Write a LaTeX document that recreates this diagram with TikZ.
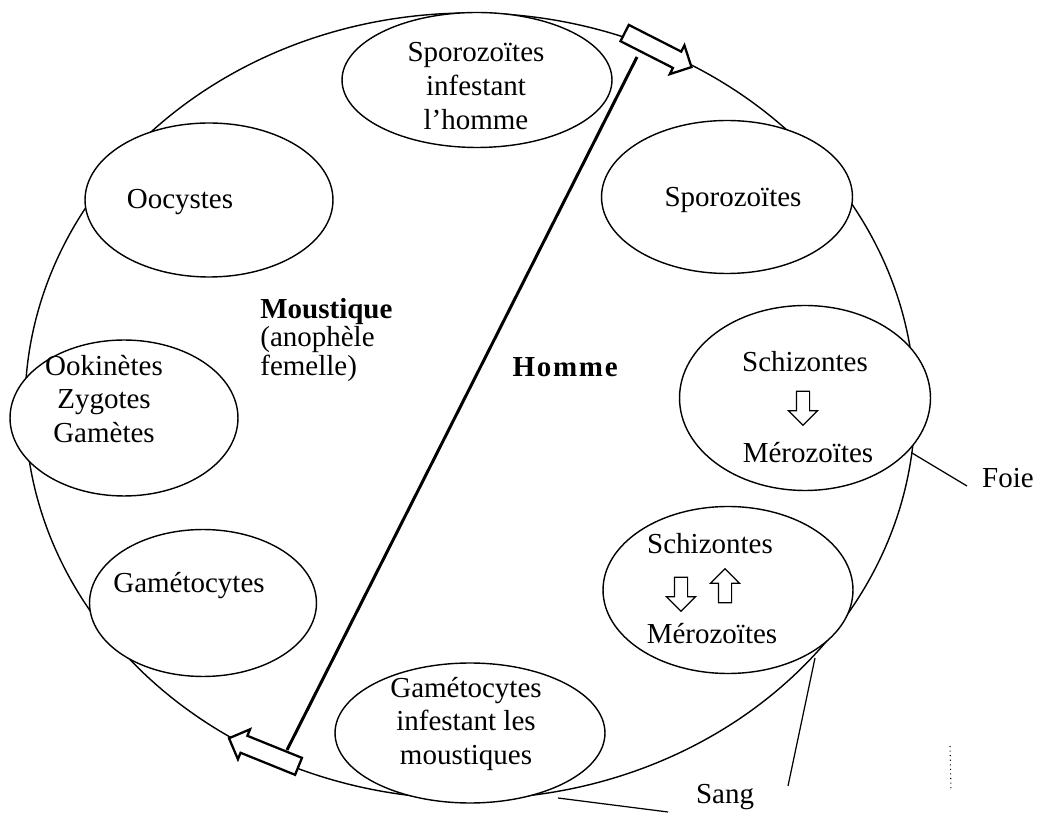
\documentclass[tikz,border=0pt]{standalone}
\usepackage{fontspec}
\setmainfont{Liberation Serif}
\usepackage{tikz}
\usetikzlibrary{shapes,arrows,positioning}

\tikzset{
	stade/.style={ellipse, draw, fill=white, line width=0.8pt, inner sep=0pt},
	lbl/.style={align=center, inner sep=0pt, font=\fontsize{16.5}{19.3}\selectfont},
	fleche/.style={single arrow, draw, fill=white, line width=0.7pt, inner sep=0.12cm, single arrow head extend=0.16cm, minimum height=0.68cm},
	grosse/.style={single arrow, draw, fill=white, line width=1.3pt, inner sep=0.16cm, single arrow head extend=0.14cm, minimum height=1.5cm}
}

\begin{document}
\begin{tikzpicture}[x=0.02cm, y=-0.02cm]
				\useasboundingbox (0,0) rectangle (1041,813);
				% le cycle
				\draw [line width=0.8pt] (470,406) ellipse [x radius=445, y radius=393];
				\coordinate (dtop) at (637,57);
				\coordinate (dbot) at (287,750);
				\draw [line width=1.7pt] (dtop) -- (dbot);

				\node [stade, minimum width=5.4cm, minimum height=2.7cm] 	(spzH) 	at (477,80) {};
				\node [stade, minimum width=5.02cm, minimum height=3.06cm] 	(spz) 	at (727,197) {};
				\node [stade, minimum width=5.02cm, minimum height=3.7cm] 	(schF) 	at (805,398) {};
				\node [stade, minimum width=5.0cm, minimum height=3.34cm] 	(schS) 	at (728,590) {};
				\node [stade, minimum width=5.4cm, minimum height=2.8cm] 	(gamH) 	at (470,733) {};
				\node [stade, minimum width=4.54cm, minimum height=2.94cm] 	(gam) 	at (203,603) {};
				\node [stade, minimum width=4.56cm, minimum height=3.12cm] 	(ooki) 	at (124,418) {};
				\node [stade, minimum width=4.96cm, minimum height=3.08cm] 	(oocy) 	at (209,200) {};

				\node [lbl] (spzHT) 	at (476,86) 	{Sporozoïtes\\infestant\\l’homme};
				\node [lbl] (spzT) 	at (733,200) 	{Sporozoïtes};
				\node [lbl] (schF1) 	at (805,362) 	{Schizontes};
				\node [fleche, shape border rotate=270] (flF) at (803,405) {};
				\node [lbl] (merF) 	at (808,453) 	{Mérozoïtes};
				\node [lbl] (schS1) 	at (710,544) 	{Schizontes};
				\node [fleche, shape border rotate=270] (flSb) at (681,591) {};
				\node [fleche, shape border rotate=90] (flSh) at (725,589) {};
				\node [lbl] (merS) 	at (712,634) 	{Mérozoïtes};
				\node [lbl] (gamHT) 	at (466,724) 	{Gamétocytes\\infestant les\\moustiques};
				\node [lbl] (gamT) 	at (189,586) 	{Gamétocytes};
				\node [lbl] (ookiT) 	at (104,399) 	{Ookinètes\\Zygotes\\Gamètes};
				\node [lbl] (oocyT) 	at (180,202) 	{Oocystes};

				\node [lbl, align=left, anchor=west, font=\fontsize{16.5}{16}\selectfont] (moust) at (260,340) {\textbf{Moustique}\\(anophèle\\femelle)};
				\node [lbl] (homme) 	at (566,367) 	{\addfontfeatures{LetterSpace=6}\textbf{Homme}};

				% foie et sang
				\node [lbl] (foie) 	at (1008,478) 	{Foie};
				\node [lbl] (sang) 	at (725,797) 	{Sang};
				\coordinate (pFoie) at (912,453);
				\coordinate (fFoie) at (967,486);
				\draw [line width=0.7pt] (pFoie) -- (fFoie);
				\coordinate (pSang) at (815,658);
				\coordinate (fSang) at (788,786);
				\draw [line width=0.7pt] (pSang) -- (fSang);
				\coordinate (pSang2) at (558,798);
				\coordinate (fSang2) at (668,812);
				\draw [line width=0.7pt] (pSang2) -- (fSang2);
				\coordinate (pt1) at (950,746);
				\coordinate (pt2) at (951,790);
				\draw [dotted, line width=0.6pt] (pt1) -- (pt2);

				% fleches de transmission
				\node [grosse, rotate=-27] (flHaut) at (654,48) {};
				\node [grosse, rotate=158] (flBas) at (268,754) {};
\end{tikzpicture}
\end{document}
